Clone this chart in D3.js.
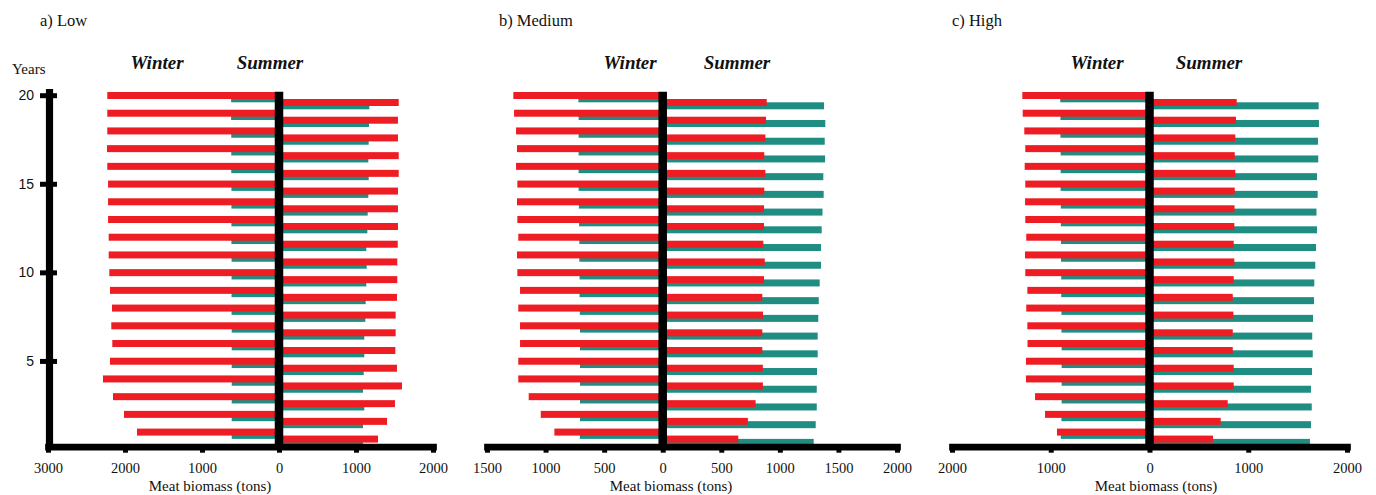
<meta charset="utf-8">
<html>

<head>
    <script src="https://d3js.org/d3.v7.min.js"></script>
    <style>
        body { margin: 0; background: #fff; }
        text { font-family: "Liberation Serif", serif; fill: #111; }
    </style>
</head>

<body>
    <div id="my_dataviz"></div>

    <script>
        // years 1..20 (bottom to top)
        const years = d3.range(1, 21);

        // a) Low
        const lowWinterRed = [1844, 2013, 2156, 2286, 2195, 2165, 2178, 2169, 2195, 2204, 2212, 2212, 2220, 2220, 2220, 2230, 2234, 2230, 2230, 2230];
        const lowWinterTeal = [614, 614, 614, 614, 614, 614, 614, 616, 616, 616, 616, 618, 618, 618, 618, 620, 620, 620, 622, 622];
        const lowSummerRed = [1286, 1403, 1506, 1597, 1532, 1511, 1515, 1515, 1532, 1536, 1536, 1542, 1545, 1545, 1545, 1555, 1555, 1545, 1545, 1555];
        const lowSummerTeal = [1090, 1091, 1108, 1091, 1100, 1108, 1108, 1121, 1126, 1134, 1139, 1134, 1147, 1152, 1160, 1165, 1160, 1165, 1169, 1173];

        // b) Medium
        const medWinterRed = [925, 1041, 1144, 1233, 1233, 1218, 1218, 1233, 1218, 1241, 1244, 1233, 1241, 1244, 1241, 1252, 1244, 1252, 1269, 1275];
        const medWinterTeal = [708, 706, 706, 706, 706, 706, 706, 708, 710, 710, 712, 712, 714, 716, 718, 718, 718, 718, 718, 720];
        const medSummerRed = [645, 727, 793, 855, 855, 850, 850, 856, 850, 865, 871, 859, 865, 865, 867, 876, 867, 876, 882, 888];
        const medSummerTeal = [1289, 1306, 1315, 1315, 1317, 1323, 1323, 1328, 1332, 1340, 1351, 1351, 1357, 1364, 1374, 1371, 1386, 1383, 1388, 1377];

        // c) High
        const highWinterRed = [937, 1058, 1159, 1251, 1251, 1235, 1237, 1248, 1237, 1258, 1261, 1248, 1258, 1260, 1258, 1264, 1258, 1268, 1284, 1288];
        const highWinterTeal = [898, 892, 890, 890, 890, 890, 892, 892, 894, 894, 896, 896, 898, 898, 900, 900, 900, 902, 902, 904];
        const highSummerRed = [643, 721, 792, 853, 853, 843, 843, 849, 843, 853, 859, 853, 859, 861, 863, 869, 863, 869, 876, 883];
        const highSummerTeal = [1625, 1635, 1643, 1635, 1646, 1653, 1648, 1656, 1666, 1669, 1679, 1686, 1696, 1691, 1703, 1696, 1709, 1706, 1716, 1713];

        // tick values
        const lowTicks = [-3000, -2000, -1000, 0, 1000, 2000];
        const medTicks = [-1500, -1000, -500, 0, 500, 1000, 1500, 2000];
        const highTicks = [-2000, -1000, 0, 1000, 2000];
        const yearTicks = [5, 10, 15, 20];

        const red = "#ee1d24", teal = "#1f8d82";

        const svg = d3.select("#my_dataviz").append("svg")
            .attr("width", 1376)
            .attr("height", 495);

        // shared year scale
        const y = d3.scaleLinear().domain([0, 20]).range([449.5, 95.2]);
        const axisY = 446.7;

        const panels = [
            { title: "a) Low", titleX: 40, x: d3.scaleLinear().domain([-3000, 2000]).range([48, 433]), ticks: lowTicks,
              wr: lowWinterRed, wt: lowWinterTeal, sr: lowSummerRed, st: lowSummerTeal, winterX: 157, summerX: 270, labelX: 210 },
            { title: "b) Medium", titleX: 499, x: d3.scaleLinear().domain([-1500, 2000]).range([487, 897]), ticks: medTicks,
              wr: medWinterRed, wt: medWinterTeal, sr: medSummerRed, st: medSummerTeal, winterX: 630, summerX: 737, labelX: 671 },
            { title: "c) High", titleX: 952, x: d3.scaleLinear().domain([-2000, 2000]).range([952, 1347]), ticks: highTicks,
              wr: highWinterRed, wt: highWinterTeal, sr: highSummerRed, st: highSummerTeal, winterX: 1097, summerX: 1209, labelX: 1156 }
        ];

        panels.forEach(function (p) {
            const x = p.x;
            const g = svg.append("g");

            // title
            g.append("text")
                .attr("x", p.titleX)
                .attr("y", 26)
                .style("font-size", "16.5px")
                .text(p.title);

            // season labels
            g.append("text").attr("x", p.winterX).attr("y", 68.5)
                .attr("text-anchor", "middle")
                .style("font-size", "19px").style("font-weight", "bold").style("font-style", "italic")
                .text("Winter");
            g.append("text").attr("x", p.summerX).attr("y", 68.5)
                .attr("text-anchor", "middle")
                .style("font-size", "19px").style("font-weight", "bold").style("font-style", "italic")
                .text("Summer");

            // teal bars behind, red on top; winter goes left (negative)
            const rows = years.map((yr, i) => ({ yr: yr, wr: p.wr[i], wt: p.wt[i], sr: p.sr[i], st: p.st[i] }));
            const yc = d => y(d.yr) + 0.3;

            g.append("g").selectAll("rect").data(rows).enter().append("rect")
                .attr("x", d => x(-d.wt)).attr("width", d => x(0) - x(-d.wt))
                .attr("y", d => yc(d) - 0.2).attr("height", 7).attr("fill", teal);
            g.append("g").selectAll("rect").data(rows).enter().append("rect")
                .attr("x", x(0)).attr("width", d => x(d.st) - x(0))
                .attr("y", d => yc(d) + 6.8).attr("height", 7).attr("fill", teal);
            g.append("g").selectAll("rect").data(rows).enter().append("rect")
                .attr("x", d => x(-d.wr)).attr("width", d => x(0) - x(-d.wr))
                .attr("y", d => yc(d) - 3.5).attr("height", 7).attr("fill", red);
            g.append("g").selectAll("rect").data(rows).enter().append("rect")
                .attr("x", x(0)).attr("width", d => x(d.sr) - x(0))
                .attr("y", d => yc(d) + 3.5).attr("height", 7).attr("fill", red);

            // thick zero line
            g.append("line")
                .attr("x1", x(0)).attr("x2", x(0))
                .attr("y1", 91.7).attr("y2", axisY)
                .attr("stroke", "#000").attr("stroke-width", 8.5);

            // x axis
            const xAxis = g.append("g")
                .attr("transform", `translate(0, ${axisY})`)
                .call(d3.axisBottom(x).tickValues(p.ticks).tickFormat(d => Math.abs(d))
                    .tickSizeInner(6).tickSizeOuter(0).tickPadding(10));
            xAxis.select(".domain").attr("stroke", "#000").attr("stroke-width", 6.7).attr("stroke-linecap", "square");
            xAxis.selectAll(".tick line").attr("stroke", "#000").attr("stroke-width", 5);
            xAxis.selectAll(".tick text")
                .style("font-family", "'Liberation Serif', serif")
                .style("font-size", "14.5px").attr("fill", "#111");

            // x axis title
            g.append("text")
                .attr("x", p.labelX)
                .attr("y", 490.5)
                .attr("text-anchor", "middle")
                .style("font-size", "15px")
                .text("Meat biomass (tons)");
        });

        // y axis only on the first panel
        const yAxis = svg.append("g")
            .attr("transform", "translate(49.5, 0)")
            .call(d3.axisLeft(y).tickValues(yearTicks).tickSize(9).tickPadding(6.5));
        yAxis.select(".domain").remove();
        yAxis.selectAll(".tick line").attr("x1", 7.5).attr("x2", -9.5)
            .attr("stroke", "#000").attr("stroke-width", 5);
        yAxis.selectAll(".tick text")
            .style("font-family", "'Liberation Sans', sans-serif")
            .style("font-size", "14px").attr("fill", "#111");
        svg.append("line")
            .attr("x1", 49.5).attr("x2", 49.5)
            .attr("y1", 89).attr("y2", axisY)
            .attr("stroke", "#000").attr("stroke-width", 7.2);

        svg.append("text")
            .attr("x", 12)
            .attr("y", 74)
            .style("font-size", "15px")
            .text("Years");
    </script>
</body>

</html>
